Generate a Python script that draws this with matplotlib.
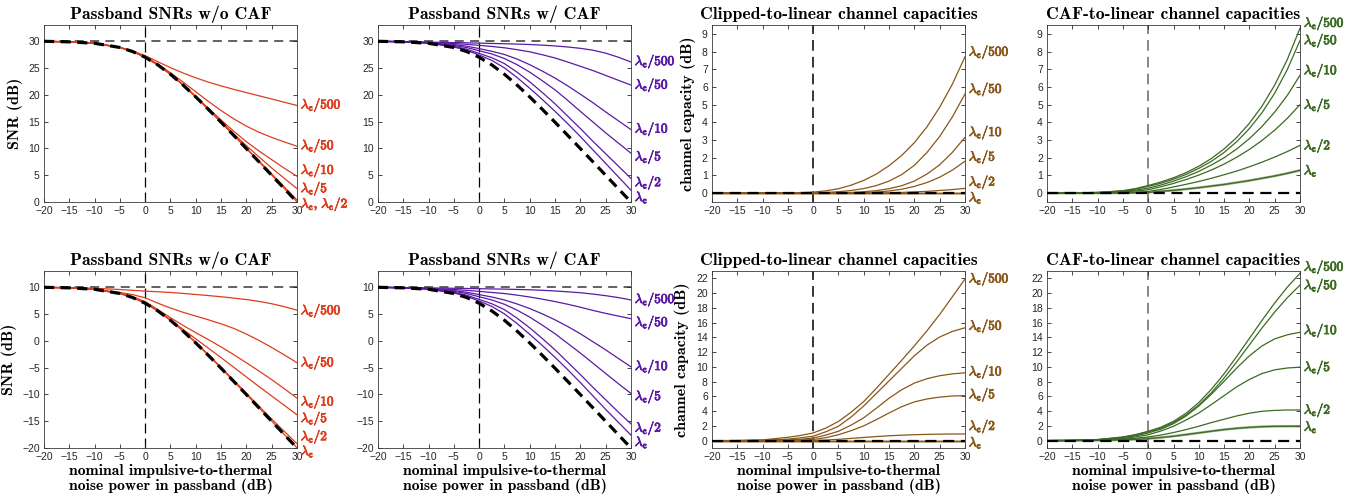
import matplotlib.pyplot as plt
import matplotlib.patheffects as pe
from matplotlib import transforms

plt.rcParams['mathtext.fontset'] = 'cm'
plt.rcParams['font.family'] = 'Liberation Sans'

# nominal impulsive-to-thermal noise power in passband (dB)
x = [-20, -15, -10, -5, -2.5, 0, 2.5, 5, 7.5, 10, 12.5, 15, 17.5, 20, 22.5, 25, 27.5, 30]

lam_names = ['500', '50', '10', '5', '2', '1']

# reference SNR with no impulsive noise clipping (black dashed)
snr_ref_top = [29.96, 29.86, 29.59, 28.81, 28.06, 26.99, 25.56, 23.81, 21.79, 19.59, 17.26, 14.87, 12.42, 9.96, 7.48, 4.99, 2.49, 0.0]
snr_ref_bot = [9.96, 9.86, 9.59, 8.81, 8.06, 6.99, 5.56, 3.81, 1.79, -0.41, -2.74, -5.13, -7.58, -10.04, -12.52, -15.01, -17.51, -20.0]

# top row, w/o CAF
snr_nocaf_top = [
    [29.96, 29.86, 29.6, 28.85, 28.15, 27.3, 26.15, 25.05, 24.05, 23.15, 22.35, 21.65, 21.0, 20.4, 19.8, 19.2, 18.6, 18.0],
    [29.96, 29.86, 29.59, 28.82, 28.08, 27.05, 25.7, 24.1, 22.35, 20.55, 18.75, 17.05, 15.5, 14.15, 13.0, 12.05, 11.2, 10.4],
    [29.96, 29.86, 29.59, 28.81, 28.06, 27.0, 25.6, 23.85, 21.85, 19.7, 17.45, 15.3, 13.2, 11.25, 9.5, 7.9, 6.3, 4.8],
    [29.96, 29.86, 29.59, 28.81, 28.06, 26.99, 25.57, 23.82, 21.8, 19.62, 17.3, 15.0, 12.7, 10.5, 8.4, 6.35, 4.4, 2.5],
    [29.96, 29.86, 29.59, 28.81, 28.06, 26.99, 25.56, 23.81, 21.79, 19.6, 17.28, 14.9, 12.47, 10.05, 7.65, 5.25, 2.8, 0.35],
    [29.96, 29.86, 29.59, 28.81, 28.06, 26.99, 25.56, 23.81, 21.79, 19.59, 17.26, 14.87, 12.42, 9.97, 7.5, 5.01, 2.52, 0.05],
]
# top row, w/ CAF
snr_caf_top = [
    [29.97, 29.9, 29.8, 29.72, 29.68, 29.62, 29.56, 29.5, 29.44, 29.36, 29.24, 29.1, 28.9, 28.65, 28.3, 27.75, 27.0, 26.1],
    [29.97, 29.9, 29.75, 29.55, 29.4, 29.2, 29.0, 28.75, 28.4, 28.0, 27.45, 26.85, 26.1, 25.3, 24.5, 23.6, 22.7, 21.8],
    [29.96, 29.88, 29.7, 29.35, 29.05, 28.6, 28.1, 27.5, 26.65, 25.6, 24.4, 23.1, 21.65, 20.1, 18.5, 16.8, 15.15, 13.5],
    [29.96, 29.87, 29.67, 29.2, 28.8, 28.2, 27.6, 26.75, 25.6, 24.2, 22.6, 20.9, 18.95, 16.9, 14.9, 12.9, 11.0, 9.1],
    [29.96, 29.86, 29.63, 29.0, 28.5, 27.7, 26.9, 25.8, 24.2, 22.4, 20.4, 18.3, 16.0, 13.7, 11.3, 9.0, 6.7, 4.4],
    [29.96, 29.86, 29.6, 28.9, 28.3, 27.4, 26.4, 25.0, 23.2, 21.2, 19.1, 16.9, 14.6, 12.2, 9.7, 7.2, 4.7, 2.2],
]
# top row, clipped-to-linear capacity
cap_clip_top = [
    [0, 0, 0.005, 0.02, 0.03, 0.06, 0.13, 0.25, 0.45, 0.72, 1.08, 1.55, 2.13, 2.85, 3.75, 4.85, 6.15, 7.7],
    [0, 0, 0, 0.005, 0.01, 0.02, 0.04, 0.08, 0.15, 0.26, 0.43, 0.68, 1.05, 1.57, 2.3, 3.2, 4.3, 5.6],
    [0, 0, 0, 0, 0, 0.005, 0.01, 0.02, 0.04, 0.08, 0.14, 0.25, 0.42, 0.68, 1.08, 1.6, 2.3, 3.15],
    [0, 0, 0, 0, 0, 0, 0.005, 0.01, 0.02, 0.03, 0.06, 0.12, 0.22, 0.38, 0.6, 0.9, 1.3, 1.8],
    [0, 0, 0, 0, 0, 0, 0, 0, 0, 0.005, 0.01, 0.02, 0.04, 0.07, 0.1, 0.15, 0.2, 0.27],
    [0, 0, 0, 0, 0, 0, 0, 0, 0, 0, 0, 0, 0, 0, 0, 0, 0, 0],
]
# top row, CAF-to-linear capacity
cap_caf_top = [
    [0, 0.01, 0.04, 0.14, 0.26, 0.43, 0.63, 0.87, 1.16, 1.52, 1.96, 2.5, 3.15, 3.95, 4.92, 6.11, 7.56, 9.32],
    [0, 0.01, 0.04, 0.12, 0.23, 0.38, 0.56, 0.79, 1.06, 1.4, 1.8, 2.3, 2.91, 3.65, 4.55, 5.65, 6.99, 8.63],
    [0, 0.01, 0.03, 0.1, 0.17, 0.28, 0.46, 0.68, 0.93, 1.23, 1.59, 2.0, 2.5, 3.08, 3.77, 4.58, 5.53, 6.66],
    [0, 0.005, 0.02, 0.07, 0.12, 0.19, 0.36, 0.55, 0.77, 1.02, 1.31, 1.64, 2.03, 2.47, 2.98, 3.56, 4.23, 5.0],
    [0, 0, 0.01, 0.03, 0.05, 0.09, 0.21, 0.35, 0.5, 0.66, 0.84, 1.04, 1.25, 1.49, 1.75, 2.04, 2.35, 2.7],
    [0, 0, 0, 0.01, 0.02, 0.04, 0.1, 0.16, 0.23, 0.31, 0.4, 0.49, 0.6, 0.71, 0.84, 0.97, 1.12, 1.29],
]

# bottom row, w/o CAF
snr_nocaf_bot = [
    [9.97, 9.9, 9.78, 9.55, 9.4, 9.25, 9.13, 9.0, 8.82, 8.62, 8.42, 8.2, 7.95, 7.68, 7.33, 6.9, 6.35, 5.7],
    [9.96, 9.86, 9.6, 9.0, 8.6, 8.0, 7.0, 6.1, 5.3, 4.6, 3.9, 3.15, 2.3, 1.25, 0.05, -1.25, -2.65, -4.1],
    [9.96, 9.86, 9.59, 8.85, 8.2, 7.3, 5.8, 4.3, 2.85, 1.5, 0.2, -1.15, -2.6, -4.1, -5.65, -7.25, -8.95, -10.7],
    [9.96, 9.86, 9.59, 8.82, 8.1, 7.1, 5.55, 3.9, 2.1, 0.35, -1.4, -3.15, -4.95, -6.75, -8.55, -10.3, -12.05, -13.8],
    [9.96, 9.86, 9.59, 8.81, 8.07, 7.0, 5.6, 3.85, 1.85, -0.3, -2.6, -4.95, -7.35, -9.8, -12.2, -14.6, -16.9, -19.2],
    [9.96, 9.86, 9.59, 8.81, 8.06, 6.99, 5.56, 3.81, 1.79, -0.41, -2.74, -5.12, -7.57, -10.02, -12.5, -14.98, -17.47, -19.95],
]
# bottom row, w/ CAF
snr_caf_bot = [
    [9.97, 9.92, 9.85, 9.78, 9.74, 9.7, 9.66, 9.62, 9.56, 9.5, 9.4, 9.28, 9.12, 8.95, 8.7, 8.4, 8.05, 7.6],
    [9.97, 9.9, 9.75, 9.55, 9.4, 9.2, 9.0, 8.8, 8.5, 8.15, 7.75, 7.3, 6.8, 6.25, 5.65, 5.1, 4.6, 4.1],
    [9.96, 9.88, 9.7, 9.35, 9.05, 8.6, 8.15, 7.6, 6.85, 6.0, 5.0, 3.9, 2.65, 1.3, -0.2, -1.7, -3.3, -4.86],
    [9.96, 9.87, 9.67, 9.2, 8.8, 8.2, 7.6, 6.8, 5.7, 4.4, 2.9, 1.3, -0.5, -2.3, -4.2, -6.1, -8.0, -9.84],
    [9.96, 9.86, 9.63, 9.0, 8.5, 7.7, 6.9, 5.8, 4.2, 2.4, 0.4, -1.7, -4.0, -6.3, -8.7, -11.0, -13.3, -15.5],
    [9.96, 9.86, 9.6, 8.9, 8.3, 7.4, 6.4, 5.0, 3.2, 1.2, -0.9, -3.1, -5.4, -7.8, -10.3, -12.8, -15.2, -17.6],
]
# bottom row, clipped-to-linear capacity
cap_clip_bot = [
    [0, 0.02, 0.1, 0.45, 0.7, 1.04, 1.7, 2.6, 3.85, 5.3, 7.1, 9.0, 10.9, 12.85, 14.9, 17.1, 19.5, 21.9],
    [0, 0.01, 0.05, 0.2, 0.38, 0.6, 1.2, 1.95, 3.2, 4.7, 6.4, 8.1, 9.8, 11.5, 12.95, 14.05, 14.8, 15.3],
    [0, 0, 0.02, 0.08, 0.18, 0.35, 0.75, 1.27, 2.1, 3.1, 4.4, 5.75, 6.9, 7.8, 8.4, 8.8, 9.05, 9.2],
    [0, 0, 0.01, 0.03, 0.08, 0.15, 0.4, 0.8, 1.35, 2.0, 2.85, 3.75, 4.6, 5.25, 5.65, 5.9, 6.05, 6.1],
    [0, 0, 0, 0, 0.01, 0.02, 0.08, 0.18, 0.3, 0.43, 0.55, 0.66, 0.74, 0.8, 0.85, 0.88, 0.9, 0.9],
    [0, 0, 0, 0, 0, 0, 0, 0, 0, 0, 0, 0, 0, 0, 0, 0, 0, 0],
]
# bottom row, CAF-to-linear capacity
cap_caf_bot = [
    [0, 0.03, 0.15, 0.5, 0.82, 1.27, 1.82, 2.62, 3.72, 5.17, 6.97, 9.07, 11.42, 13.87, 16.32, 18.67, 20.82, 22.7],
    [0, 0.03, 0.14, 0.45, 0.76, 1.18, 1.7, 2.45, 3.48, 4.83, 6.51, 8.49, 10.69, 12.99, 15.29, 17.44, 19.39, 21.1],
    [0, 0.02, 0.12, 0.4, 0.66, 1.04, 1.55, 2.3, 3.35, 4.7, 6.3, 8.05, 9.85, 11.5, 12.85, 13.8, 14.35, 14.7],
    [0, 0.02, 0.1, 0.3, 0.5, 0.8, 1.3, 1.95, 2.8, 3.75, 4.9, 6.1, 7.3, 8.3, 9.1, 9.6, 9.85, 9.96],
    [0, 0.01, 0.05, 0.2, 0.32, 0.5, 0.75, 1.1, 1.5, 1.95, 2.45, 2.9, 3.35, 3.72, 3.98, 4.1, 4.15, 4.16],
    [0, 0.01, 0.03, 0.1, 0.17, 0.27, 0.42, 0.6, 0.82, 1.05, 1.28, 1.5, 1.67, 1.8, 1.89, 1.94, 1.95, 1.95],
]

# where the right-hand labels sit (data y)
lab_y = {
    'p1': [18.2, 10.6, 6.0, 2.6, -0.3],
    'p2': [26.3, 21.9, 13.7, 8.5, 3.7, 0.9],
    'p3': [8.0, 5.9, 3.46, 2.07, 0.65, -0.25],
    'p4': [9.63, 8.65, 6.95, 5.0, 2.7, 1.28],
    'p5': [5.7, -4.0, -11.3, -14.4, -17.8, -20.6],
    'p6': [7.8, 3.5, -4.7, -10.3, -16.2, -18.9],
    'p7': [22.0, 15.6, 9.4, 6.3, 2.0, -0.25],
    'p8': [23.6, 21.1, 15.0, 10.0, 4.2, 1.86],
}

RED = '#dd3d1c'
PURPLE = '#5a1aa4'
BROWN = '#8a5718'
GREEN = '#3c6a22'
SERIF = 'cmb10'


def lam_label(name):
    if name == '1':
        return r'$\lambda_\mathbf{c}$'
    return r'$\lambda_\mathbf{c}\mathbf{/%s}$' % name


def setup_axes(ax, ylim, yticks, title):
    ax.set_xlim(-20, 30)
    ax.set_ylim(*ylim)
    ax.set_xticks(range(-20, 31, 5))
    ax.set_yticks(yticks)
    ax.tick_params(direction='in', top=True, right=True, labelsize=7.5, length=3,
                   width=0.6, colors='#262626', pad=3)
    for s in ax.spines.values():
        s.set_color('#3a3a3a')
        s.set_linewidth(0.6)
    ax.set_title(title, fontfamily=SERIF, fontsize=12.7, pad=4)


def add_labels(ax, ys, texts, color):
    tr = transforms.blended_transform_factory(ax.transAxes, ax.transData)
    for y, t in zip(ys, texts):
        ax.text(1.015, y, t, transform=tr, color=color, fontsize=9.6, va='center', ha='left',
                clip_on=False, path_effects=[pe.withStroke(linewidth=0.6, foreground=color)])


fig = plt.figure(figsize=(13.61, 4.99), dpi=100)
lefts = [0.0323, 0.2777, 0.5231, 0.7693]
w = 0.1859
h = 0.3547
bottoms = [0.5952, 0.1022]

axs = [[fig.add_axes([l, b, w, h]) for l in lefts] for b in bottoms]


def snr_panel(ax, curves, ref, level, color, ylim, yticks, title, ys, texts):
    setup_axes(ax, ylim, yticks, title)
    ax.axhline(level, color='#555555', lw=1.3, ls=(0, (5, 3.5)), zorder=1)
    ax.axvline(0, color='black', lw=0.9, ls=(0, (8, 4)), zorder=1)
    for c in curves:
        ax.plot(x, c, color=color, lw=0.9, zorder=2)
    ax.plot(x, ref, color='black', lw=2.3, ls=(0, (3.2, 2.0)), zorder=3)
    add_labels(ax, ys, texts, color)


def cap_panel(ax, curves, color, vcolor, ylim, yticks, title, ys):
    setup_axes(ax, ylim, yticks, title)
    ax.axvline(0, color=vcolor, lw=1.1, ls=(0, (7, 4)), zorder=1)
    for c in curves:
        ax.plot(x, c, color=color, lw=0.9, zorder=2)
    ax.plot(x, curves[-1], color=color, lw=1.8, alpha=0.5, zorder=2)
    ax.axhline(0, color='black', lw=1.6, ls=(0, (5, 3)), zorder=3)
    add_labels(ax, ys, [lam_label(n) for n in lam_names], color)


all_lab = [lam_label(n) for n in lam_names]
p1_lab = all_lab[:4] + [r'$\lambda_\mathbf{c}\mathbf{,}\ \lambda_\mathbf{c}\mathbf{/2}$']

snr_panel(axs[0][0], snr_nocaf_top, snr_ref_top, 30, RED, (0, 33), range(0, 31, 5),
          'Passband SNRs w/o CAF', lab_y['p1'], p1_lab)
snr_panel(axs[0][1], snr_caf_top, snr_ref_top, 30, PURPLE, (0, 33), range(0, 31, 5),
          'Passband SNRs w/ CAF', lab_y['p2'], all_lab)
cap_panel(axs[0][2], cap_clip_top, BROWN, 'black', (-0.5, 9.5), range(0, 10),
          'Clipped-to-linear channel capacities', lab_y['p3'])
cap_panel(axs[0][3], cap_caf_top, GREEN, '#666666', (-0.5, 9.5), range(0, 10),
          'CAF-to-linear channel capacities', lab_y['p4'])

snr_panel(axs[1][0], snr_nocaf_bot, snr_ref_bot, 10, RED, (-20, 13), range(-20, 11, 5),
          'Passband SNRs w/o CAF', lab_y['p5'], all_lab)
snr_panel(axs[1][1], snr_caf_bot, snr_ref_bot, 10, PURPLE, (-20, 13), range(-20, 11, 5),
          'Passband SNRs w/ CAF', lab_y['p6'], all_lab)
cap_panel(axs[1][2], cap_clip_bot, BROWN, 'black', (-1, 23), range(0, 23, 2),
          'Clipped-to-linear channel capacities', lab_y['p7'])
cap_panel(axs[1][3], cap_caf_bot, GREEN, '#666666', (-1, 23), range(0, 23, 2),
          'CAF-to-linear channel capacities', lab_y['p8'])

for r in range(2):
    axs[r][0].set_ylabel('SNR (dB)', fontfamily=SERIF, fontsize=11.5, labelpad=4)
    axs[r][2].set_ylabel('channel capacity (dB)', fontfamily=SERIF, fontsize=11.5, labelpad=4)
for ax in axs[1]:
    ax.set_xlabel('nominal impulsive-to-thermal\nnoise power in passband (dB)',
                  fontfamily=SERIF, fontsize=11.3, labelpad=1, linespacing=1.05)

fig.savefig('out.png', dpi=100)
